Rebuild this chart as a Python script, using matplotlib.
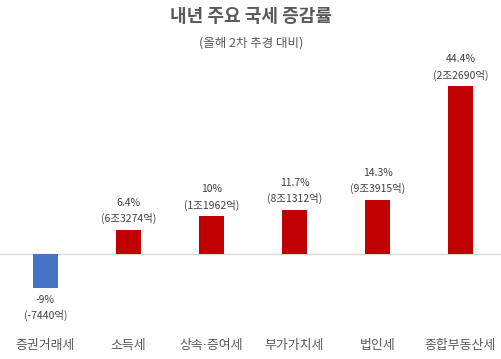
import matplotlib
matplotlib.use("Agg")
import matplotlib.pyplot as plt

plt.rcParams['font.family'] = ['Noto Sans CJK KR', 'DejaVu Sans']

categories = ['증권거래세', '소득세', '상속·증여세', '부가가치세', '법인세', '종합부동산세']
rates = [-9, 6.4, 10, 11.7, 14.3, 44.4]
rate_labels = ['-9%', '6.4%', '10%', '11.7%', '14.3%', '44.4%']
amount_labels = ['(-7440억)', '(6조3274억)', '(1조1962억)', '(8조1312억)', '(9조3915억)', '(2조2690억)']

fig = plt.figure(figsize=(5.02, 3.59), dpi=100)
W, H = 502.0, 359.0
ax_bottom_px, ax_top_px = 335, 60
ax_left_px = 4
ax = fig.add_axes([ax_left_px / W, 1 - ax_bottom_px / H, (W - ax_left_px) / W,
                   (ax_bottom_px - ax_top_px) / H])
scale = 3.78
zero_px = 254
ax.set_xlim(-0.5, len(categories) - 0.5)
ax.set_ylim(-(ax_bottom_px - zero_px) / scale, (zero_px - ax_top_px) / scale)

colors = ['#4472C4' if v < 0 else '#C00000' for v in rates]
x = list(range(len(categories)))
ax.bar(x, rates, width=0.31, color=colors, zorder=3)
ax.axhline(0, xmin=-0.01, xmax=1.0, color='#D9D9D9', linewidth=1, zorder=2, clip_on=False)

for xi, v, r, a in zip(x, rates, rate_labels, amount_labels):
    if v >= 0:
        ax.annotate(f"{r}\n{a}", (xi, v), xytext=(0, 4), textcoords='offset points',
                    ha='center', va='bottom', fontsize=7.5, color='#404040', linespacing=1.6)
    else:
        ax.annotate(f"{r}\n{a}", (xi, v), xytext=(0, -5), textcoords='offset points',
                    ha='center', va='top', fontsize=7.5, color='#404040', linespacing=1.6)

ax.set_xticks(x)
ax.set_xticklabels(categories, fontsize=9.3, color='#595959',
                   family=['DejaVu Sans', 'Noto Sans CJK KR'])
ax.tick_params(axis='x', length=0, pad=3)
ax.set_yticks([])
for s in ax.spines.values():
    s.set_visible(False)

fig.text(0.5, 1 - 17 / H, '내년 주요 국세 증감률', ha='center', va='center',
         fontsize=13, color='#595959', fontweight='bold')
fig.text(0.5, 1 - 43 / H, '(올해 2차 추경 대비)', ha='center', va='center',
         fontsize=9, color='#595959')

fig.savefig('out.png', dpi=100)
